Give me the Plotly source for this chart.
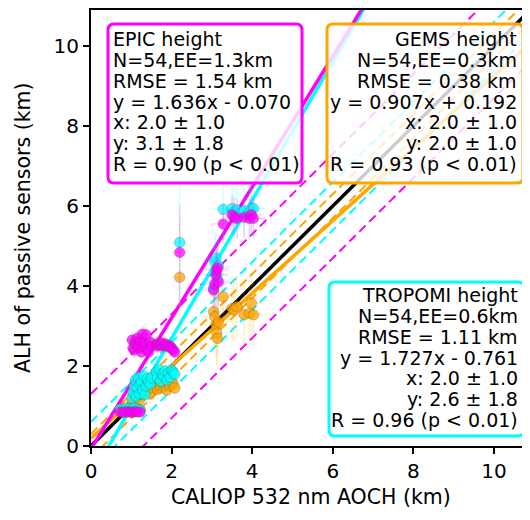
import numpy as np
import plotly.graph_objects as go

# ---------------- data ----------------
caliop_x = [
    # cluster A
    0.72, 0.80, 0.88, 0.95, 1.02, 1.08, 1.15, 1.22,
    # cluster B (left)
    1.02, 1.04, 1.07, 1.10, 1.12, 1.15, 1.17, 1.20, 1.22, 1.25, 1.28, 1.31, 1.34, 1.37, 1.40, 1.43, 1.47, 1.50,
    # cluster B (right)
    1.62, 1.65, 1.69, 1.73, 1.76, 1.80, 1.84, 1.88, 1.92, 1.96, 2.00, 2.04, 2.08,
    # single
    2.20,
    # cluster C
    3.04, 3.07, 3.10, 3.12, 3.14, 3.16, 3.28, 3.50, 3.55, 3.62, 3.80, 3.93, 3.98, 4.03,
]
epic_y = [
    0.85, 0.84, 0.86, 0.85, 0.84, 0.86, 0.85, 0.85,
    2.65, 2.45, 2.40, 2.60, 2.55, 2.70, 2.50, 2.45, 2.62, 2.35, 2.80, 2.48, 2.58, 2.78, 2.40, 2.35, 2.60, 2.50,
    2.55, 2.50, 2.55, 2.52, 2.58, 2.50, 2.55, 2.52, 2.48, 2.50, 2.45, 2.40, 2.35,
    4.84,
    3.90, 4.05, 4.27, 4.40, 4.45, 4.10, 5.55, 5.78, 5.72, 5.69, 5.72, 5.69, 5.78, 5.69,
]
gems_y = [
    0.90, 0.95, 0.85, 0.92, 0.88, 1.00, 0.95, 0.90,
    1.10, 1.25, 1.35, 1.45, 1.20, 1.30, 1.50, 1.15, 1.40, 1.55, 1.28, 1.48, 1.35, 1.52, 1.42, 1.58, 1.30, 1.45,
    1.50, 1.42, 1.55, 1.45, 1.60, 1.48, 1.52, 1.40, 1.58, 1.50, 1.62, 1.55, 1.45,
    4.22,
    3.36, 3.23, 3.03, 2.82, 2.69, 3.10, 3.73, 3.44, 3.40, 3.48, 3.28, 3.32, 3.57, 3.28,
]
tropomi_y = [
    0.92, 0.90, 0.95, 0.93, 0.90, 0.95, 0.92, 0.90,
    1.20, 1.35, 1.50, 1.65, 1.25, 1.45, 1.72, 1.30, 1.55, 1.60, 1.40, 1.75, 1.28, 1.50, 1.68, 1.60, 1.55, 1.70,
    1.85, 1.70, 1.90, 1.62, 1.80, 1.75, 1.88, 1.65, 1.82, 1.72, 1.90, 1.85, 1.80,
    5.09,
    3.95, 4.60, 4.69, 4.30, 4.15, 4.50, 5.92, 5.94, 5.85, 5.90, 5.88, 5.82, 5.94, 5.94,
]
caliop_err = [
    0.10, 0.10, 0.10, 0.10, 0.10, 0.10, 0.10, 0.10,
    0.15, 0.15, 0.15, 0.15, 0.15, 0.15, 0.15, 0.15, 0.15, 0.15, 0.15, 0.15, 0.15, 0.15, 0.15, 0.15, 0.15, 0.15,
    0.15, 0.15, 0.15, 0.15, 0.15, 0.15, 0.15, 0.15, 0.15, 0.15, 0.15, 0.15, 0.15,
    0.20,
    0.30, 0.30, 0.30, 0.30, 0.30, 0.30, 0.30, 0.30, 0.30, 0.30, 0.30, 0.30, 0.30, 0.30,
]
epic_err = [
    0.10, 0.10, 0.10, 0.10, 0.10, 0.10, 0.10, 0.10,
    0.20, 0.20, 0.20, 0.20, 0.20, 0.20, 0.20, 0.20, 0.20, 0.20, 0.20, 0.20, 0.20, 0.20, 0.20, 0.20, 0.20, 0.20,
    0.20, 0.20, 0.20, 0.20, 0.20, 0.20, 0.20, 0.20, 0.20, 0.20, 0.20, 0.20, 0.20,
    1.20,
    0.60, 0.60, 0.60, 0.60, 0.60, 0.60, 0.50, 0.50, 0.50, 0.50, 0.50, 0.50, 0.50, 0.50,
]
gems_err = [
    0.15, 0.15, 0.15, 0.15, 0.15, 0.15, 0.15, 0.15,
    0.25, 0.25, 0.25, 0.25, 0.25, 0.25, 0.25, 0.25, 0.25, 0.25, 0.25, 0.25, 0.25, 0.25, 0.25, 0.25, 0.25, 0.25,
    0.25, 0.25, 0.25, 0.25, 0.25, 0.25, 0.25, 0.25, 0.25, 0.25, 0.25, 0.25, 0.25,
    1.50,
    0.80, 0.80, 0.80, 0.80, 0.80, 0.80, 0.80, 0.80, 0.80, 0.80, 0.80, 0.80, 0.80, 0.80,
]
tropomi_err = [
    0.15, 0.15, 0.15, 0.15, 0.15, 0.15, 0.15, 0.15,
    0.25, 0.25, 0.25, 0.25, 0.25, 0.25, 0.25, 0.25, 0.25, 0.25, 0.25, 0.25, 0.25, 0.25, 0.25, 0.25, 0.25, 0.25,
    0.25, 0.25, 0.25, 0.25, 0.25, 0.25, 0.25, 0.25, 0.25, 0.25, 0.25, 0.25, 0.25,
    1.60,
    0.70, 0.70, 0.70, 0.70, 0.70, 0.70, 0.70, 0.70, 0.70, 0.70, 0.70, 0.70, 0.70, 0.70,
]

sensor_names = ["GEMS", "TROPOMI", "EPIC"]
sensor_y = {"GEMS": gems_y, "TROPOMI": tropomi_y, "EPIC": epic_y}
sensor_err = {"GEMS": gems_err, "TROPOMI": tropomi_err, "EPIC": epic_err}
sensor_color = {"GEMS": "#FFA500", "TROPOMI": "#00FFFF", "EPIC": "#FF00FF"}
sensor_rgb = {"GEMS": "255,165,0", "TROPOMI": "0,255,255", "EPIC": "255,0,255"}
fit_slope = {"GEMS": 0.907, "TROPOMI": 1.727, "EPIC": 1.636}
fit_intercept = {"GEMS": 0.192, "TROPOMI": -0.761, "EPIC": -0.070}
ee_km = {"GEMS": 0.3, "TROPOMI": 0.6, "EPIC": 1.3}

box_lines = {
    "EPIC": ["EPIC height", "N=54,EE=1.3km", "RMSE = 1.54 km", "y = 1.636x - 0.070",
             "x: 2.0 ± 1.0", "y: 3.1 ± 1.8", "R = 0.90 (p < 0.01)"],
    "GEMS": ["GEMS height", "N=54,EE=0.3km", "RMSE = 0.38 km", "y = 0.907x + 0.192",
             "x: 2.0 ± 1.0", "y: 2.0 ± 1.0", "R = 0.93 (p < 0.01)"],
    "TROPOMI": ["TROPOMI height", "N=54,EE=0.6km", "RMSE = 1.11 km", "y = 1.727x - 0.761",
                "x: 2.0 ± 1.0", "y: 2.6 ± 1.8", "R = 0.96 (p < 0.01)"],
}
x_ticks = [0, 2, 4, 6, 8, 10]
y_ticks = [0, 2, 4, 6, 8, 10]
x_title = "CALIOP 532 nm AOCH (km)"
y_title = "ALH of passive sensors (km)"

# ---------------- layout geometry ----------------
# page body has an 8px margin, so the figure is offset by 8px in the window
OFF = 8
W, H = 530 - OFF, 520 - OFF
PL, PR, PT, PB = 91, 530, 10, 446          # plot area in window pixels
ML, MR, MT = PL - OFF, 530 - PR, PT - OFF
MB = H - (PB - OFF)
PW, PH = PR - PL, PB - PT
XMAX, YMAX = PW / 40.3, PH / 40.0
FONT = "DejaVu Sans"

def pxx(px):
    return (px - PL) / PW

def pxy(py):
    return (PB - py) / PH

fig = go.Figure()
xl = np.array([0.0, 12.0])

# EE envelopes (dashed)
for s in ["GEMS", "TROPOMI", "EPIC"]:
    for sign in (1, -1):
        fig.add_trace(go.Scatter(x=xl, y=xl + sign * ee_km[s], mode="lines",
                                 line=dict(color=sensor_color[s], width=2, dash="9px,5px"),
                                 showlegend=False, hoverinfo="skip"))
# 1:1 line
fig.add_trace(go.Scatter(x=xl, y=xl, mode="lines", line=dict(color="black", width=3.5),
                         showlegend=False, hoverinfo="skip"))
# regression lines
for s in ["GEMS", "TROPOMI", "EPIC"]:
    fig.add_trace(go.Scatter(x=xl, y=fit_slope[s] * xl + fit_intercept[s], mode="lines",
                             line=dict(color=sensor_color[s], width=3.5),
                             showlegend=False, hoverinfo="skip"))
# scatter points with error bars
for s in sensor_names:
    fig.add_trace(go.Scatter(
        x=caliop_x, y=sensor_y[s], mode="markers", name=s + " height",
        marker=dict(size=10.5, color=sensor_color[s], opacity=0.75,
                    line=dict(color="rgba(70,70,70,0.6)", width=0.6)),
        error_y=dict(type="data", array=sensor_err[s], color="rgba(%s,0.18)" % sensor_rgb[s],
                     thickness=1.5, width=0),
        error_x=dict(type="data", array=caliop_err, color="rgba(%s,0.18)" % sensor_rgb[s],
                     thickness=1.5, width=0),
        showlegend=False))

# ---------------- stat boxes ----------------
boxes = {
    "EPIC": dict(x0=108, x1=302, y0=24, y1=183, align="left", tx=111, base=45.7),
    "GEMS": dict(x0=327, x1=523, y0=24, y1=183, align="right", tx=519, base=45.7),
    "TROPOMI": dict(x0=329, x1=524, y0=282, y1=436, align="right", tx=520, base=301.7),
}
shapes = []
annotations = []
r = 6
for s, b in boxes.items():
    x0, x1, y0, y1 = b["x0"], b["x1"], b["y0"], b["y1"]
    def P(px, py):
        return "%.5f,%.5f" % (pxx(px), pxy(py))
    path = ("M " + P(x0 + r, y0) + " L " + P(x1 - r, y0) + " Q " + P(x1, y0) + " " + P(x1, y0 + r) +
            " L " + P(x1, y1 - r) + " Q " + P(x1, y1) + " " + P(x1 - r, y1) +
            " L " + P(x0 + r, y1) + " Q " + P(x0, y1) + " " + P(x0, y1 - r) +
            " L " + P(x0, y0 + r) + " Q " + P(x0, y0) + " " + P(x0 + r, y0) + " Z")
    shapes.append(dict(type="path", path=path, xref="paper", yref="paper",
                       line=dict(color=sensor_color[s], width=3),
                       fillcolor="rgba(255,255,255,0.8)", layer="above"))
    for i, t in enumerate(box_lines[s]):
        base = b["base"] + i * 20.8
        annotations.append(dict(
            text=t, xref="paper", yref="paper", x=pxx(b["tx"]), y=pxy(base - 6.6),
            xanchor="left" if b["align"] == "left" else "right", yanchor="middle",
            showarrow=False, font=dict(family=FONT, size=19, color="black")))

# axis titles
annotations.append(dict(text=x_title, xref="paper", yref="paper", x=pxx(310.5), y=pxy(497),
                        xanchor="center", yanchor="middle", showarrow=False,
                        font=dict(family=FONT, size=20.5, color="black")))
annotations.append(dict(text=y_title, xref="paper", yref="paper", x=pxx(23), y=pxy(228),
                        xanchor="center", yanchor="middle", showarrow=False, textangle=-90,
                        font=dict(family=FONT, size=20.5, color="black")))

axis_common = dict(showgrid=False, zeroline=False, showline=True, linecolor="black", linewidth=2,
                   ticks="outside", ticklen=6, tickwidth=2, tickcolor="black",
                   tickfont=dict(family=FONT, size=20, color="black"), mirror=True)
fig.update_layout(
    width=W, height=H, margin=dict(l=ML, r=MR, t=MT, b=MB, autoexpand=False),
    paper_bgcolor="white", plot_bgcolor="white",
    xaxis=dict(range=[0, XMAX], tickvals=x_ticks, ticktext=[str(v) for v in x_ticks], **axis_common),
    yaxis=dict(range=[0, YMAX], tickvals=y_ticks, ticktext=[str(v) for v in y_ticks], **axis_common),
    shapes=shapes, annotations=annotations, showlegend=False,
)
fig.write_html("out.html")
